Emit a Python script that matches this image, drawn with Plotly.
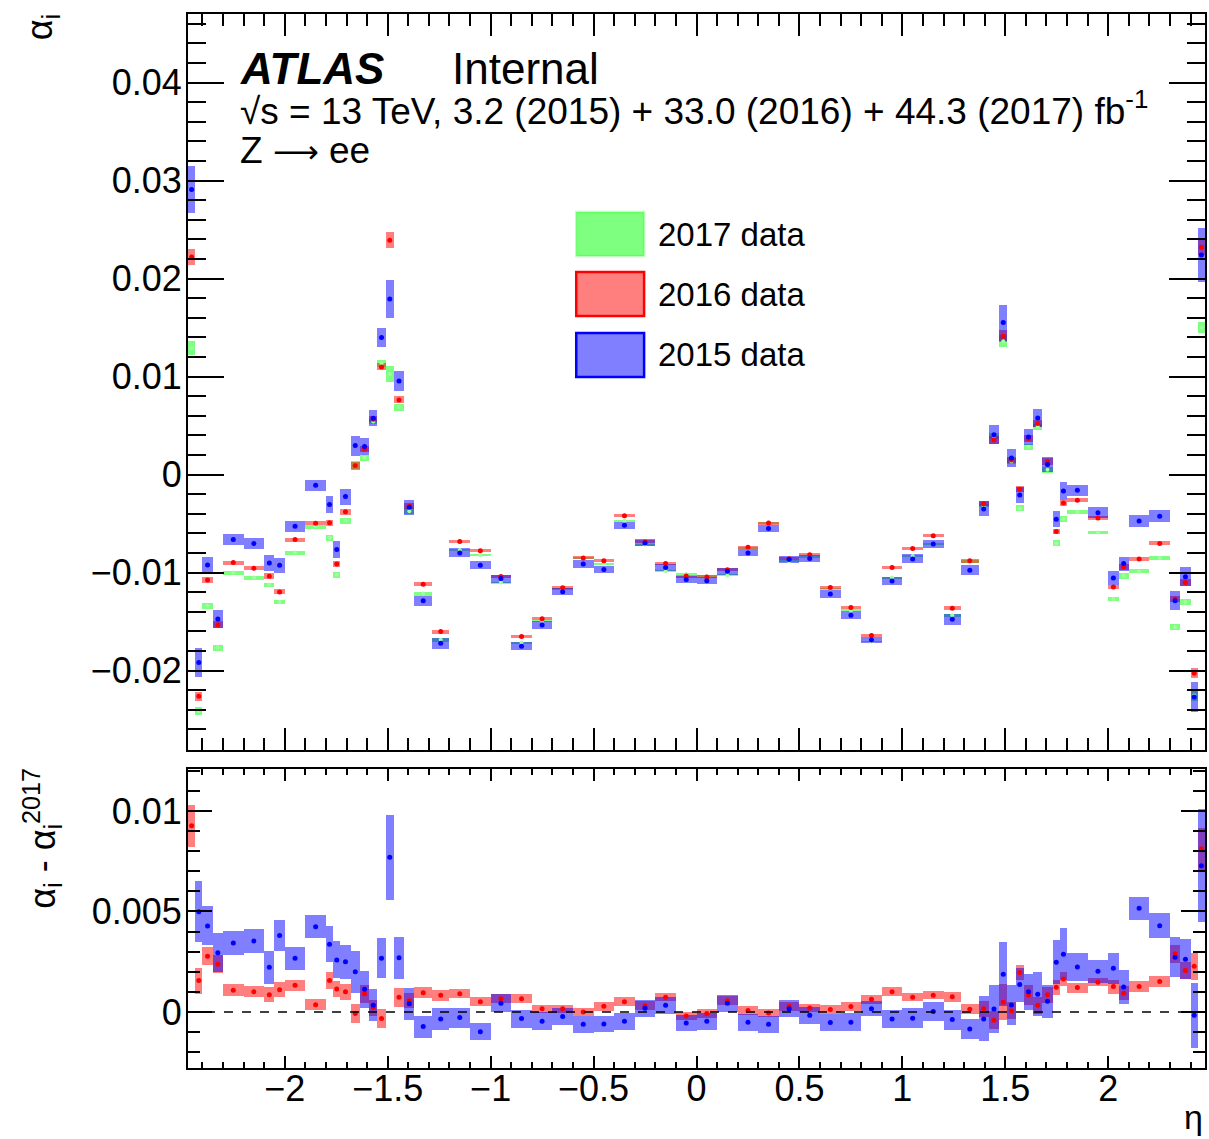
import plotly.graph_objects as go

# ---------------- data ----------------
eta_edges = [-2.47, -2.435, -2.4, -2.35, -2.3, -2.2, -2.1, -2.05, -2.0, -1.9, -1.8, -1.765,
             -1.73, -1.68, -1.635, -1.59, -1.55, -1.51, -1.47, -1.42, -1.37, -1.285, -1.2,
             -1.1, -1.0, -0.9, -0.8, -0.7, -0.6, -0.5, -0.4, -0.3, -0.2, -0.1, 0.0,
             0.1, 0.2, 0.3, 0.4, 0.5, 0.6, 0.7, 0.8, 0.9, 1.0, 1.1, 1.2,
             1.285, 1.37, 1.42, 1.47, 1.51, 1.55, 1.59, 1.635, 1.68, 1.73, 1.765, 1.8,
             1.9, 2.0, 2.05, 2.1, 2.2, 2.3, 2.35, 2.4, 2.435, 2.47]

alpha_2017 = [0.0129, -0.02413, -0.0134, -0.01765, -0.0100, -0.01051, -0.01122, -0.01301,
              -0.00796, -0.0053, -0.00643, -0.0102, -0.00469, 0.0010, 0.00173, 0.00542,
              0.01135, 0.01027, 0.00689, -0.00373, -0.01214, -0.01684, -0.0077, -0.00824,
              -0.01102, -0.01716, -0.01492, -0.01172, -0.00851, -0.00909, -0.0047, -0.00714,
              -0.00984, -0.01016, -0.01036, -0.01029, -0.00748, -0.0049, -0.00883, -0.0084,
              -0.01163, -0.01386, -0.01703, -0.0105, -0.0083, -0.00709, -0.01436, -0.0089,
              -0.00315, 0.00393, 0.0136, 0.00135, -0.00345, 0.00285, 0.0049, 0.00049,
              -0.00702, -0.00452, -0.00382, -0.00591, -0.0127, -0.01031, -0.00988, -0.0085,
              -0.01556, -0.013, -0.02255, 0.0150]
err_2017 = [0.0007, 0.00043, 0.00034, 0.0003, 0.0002, 0.0002, 0.0002, 0.0002, 0.0002, 0.0002,
            0.0003, 0.0003, 0.0003, 0.0004, 0.0003, 0.0003, 0.00034, 0.00085, 0.00036, 0.0003,
            0.0002, 0.0002, 0.0001, 0.0001, 0.0001, 0.0001, 0.0001, 0.0001, 0.0001, 0.0001,
            0.0001, 0.0001, 0.0001, 0.0001, 0.0001, 0.0001, 0.0001, 0.0001, 0.0001, 0.0001,
            0.0001, 0.0001, 0.0001, 0.0001, 0.0001, 0.0001, 0.00015, 0.00015, 0.0002, 0.0003,
            0.0006, 0.0003, 0.0003, 0.0003, 0.0003, 0.0003, 0.0003, 0.0003, 0.0002, 0.0002,
            0.00024, 0.0003, 0.0002, 0.0002, 0.00034, 0.0003, 0.0005, 0.0006]

alpha_2016 = [0.0222, -0.02262, -0.01075, -0.01531, -0.00898, -0.00956, -0.01037, -0.01197,
              -0.00663, -0.00497, -0.0049, -0.00911, -0.00378, 0.00092, 0.00262, 0.00565,
              0.01099, 0.02391, 0.00762, -0.00322, -0.01119, -0.01602, -0.00682, -0.00776,
              -0.0104, -0.01653, -0.0147, -0.01154, -0.0085, -0.0088, -0.00419, -0.00687,
              -0.00908, -0.01035, -0.01044, -0.00972, -0.00742, -0.00494, -0.00858, -0.00818,
              -0.01153, -0.01357, -0.01642, -0.00949, -0.00755, -0.00625, -0.01364, -0.0088,
              -0.00298, 0.00353, 0.01411, 0.0015, -0.0015, 0.00366, 0.00522, 0.00133,
              -0.00581, -0.0029, -0.00262, -0.00442, -0.01146, -0.00939, -0.00861, -0.00702,
              -0.01269, -0.011, -0.02026, 0.0232]
err_2016 = [0.0008, 0.00048, 0.00034, 0.00037, 0.0002, 0.0002, 0.0003, 0.00026, 0.0002, 0.0002,
            0.0003, 0.0003, 0.0003, 0.0004, 0.00034, 0.0003, 0.00036, 0.0008, 0.00036, 0.0003,
            0.0002, 0.0002, 0.00015, 0.00015, 0.00015, 0.00015, 0.00015, 0.00015, 0.00015, 0.00015,
            0.00015, 0.00015, 0.00015, 0.00015, 0.00015, 0.00015, 0.00015, 0.00015, 0.00015, 0.00015,
            0.00015, 0.00015, 0.00015, 0.00015, 0.00015, 0.00015, 0.0002, 0.0002, 0.00025, 0.0004,
            0.0006, 0.00034, 0.00032, 0.00034, 0.00036, 0.00032, 0.0003, 0.0003, 0.0002, 0.0002,
            0.00024, 0.0003, 0.0002, 0.0002, 0.00034, 0.00034, 0.0005, 0.0008]

alpha_2015 = [0.0291, -0.01918, -0.00922, -0.01473, -0.00663, -0.00704, -0.00901, -0.00925,
              -0.00527, -0.00109, -0.00306, -0.00765, -0.00224, 0.00296, 0.00286, 0.00575,
              0.01398, 0.01793, 0.00956, -0.00333, -0.01286, -0.01721, -0.00799, -0.00925,
              -0.01061, -0.01752, -0.01534, -0.01194, -0.00912, -0.00969, -0.00517, -0.00697,
              -0.00949, -0.01071, -0.01082, -0.00986, -0.00799, -0.00551, -0.00867, -0.00857,
              -0.01218, -0.01435, -0.01687, -0.01085, -0.0086, -0.00707, -0.01476, -0.00976,
              -0.0035, 0.00408, 0.01551, 0.0017, -0.00207, 0.00385, 0.00578, 0.00102,
              -0.00456, -0.00167, -0.0016, -0.00388, -0.01054, -0.00908, -0.00473, -0.00425,
              -0.01286, -0.01041, -0.02268, 0.0224]
err_2015 = [0.0024, 0.00146, 0.00085, 0.00092, 0.0006, 0.00054, 0.00082, 0.00077, 0.00056, 0.00056,
            0.00085, 0.00085, 0.00082, 0.00102, 0.00087, 0.0008, 0.00095, 0.00192, 0.001, 0.00075,
            0.00051, 0.00056, 0.00046, 0.00041, 0.00041, 0.00041, 0.00041, 0.00036, 0.00036, 0.00036,
            0.00036, 0.00036, 0.00036, 0.00036, 0.00036, 0.00036, 0.00036, 0.00036, 0.00036, 0.00036,
            0.00036, 0.00041, 0.00031, 0.00041, 0.00046, 0.00041, 0.00054, 0.00051, 0.00077, 0.00095,
            0.00184, 0.00095, 0.00085, 0.00085, 0.00092, 0.0008, 0.00082, 0.00087, 0.00056, 0.00056,
            0.00071, 0.00071, 0.00061, 0.00061, 0.00095, 0.00095, 0.00155, 0.00276]

# ratio panel: alpha_i - alpha_i(2017)
diff_2016 = [0.00927, 0.00156, 0.00277, 0.00237, 0.00108, 0.00101, 0.00086, 0.00111, 0.00133, 0.00036,
             0.00156, 0.00114, 0.0010, -0.00008, 0.0009, 0.00021, -0.00033, 0.01364, 0.00073, 0.00056,
             0.00096, 0.00083, 0.00091, 0.00051, 0.00066, 0.00066, 0.00016, 0.00016, 0.0, 0.00028,
             0.00051, 0.00031, 0.00073, -0.0002, -0.00008, 0.00056, 0.00007, -0.00005, 0.00028, 0.0002,
             0.00012, 0.00027, 0.00063, 0.00101, 0.00073, 0.00083, 0.00075, 0.00013, 0.00016, -0.00041,
             0.00048, 0.00006, 0.00196, 0.00083, 0.00033, 0.00085, 0.00123, 0.00164, 0.00121, 0.00148,
             0.00126, 0.00093, 0.00126, 0.00151, 0.0029, 0.00206, 0.00227, 0.00812]
derr_2016 = [0.00104, 0.00065, 0.00044, 0.00044, 0.00029, 0.00029, 0.00036, 0.00036, 0.00027, 0.00027,
             0.00041, 0.00039, 0.0004, 0.00047, 0.00045, 0.00039, 0.00046, 0.0012, 0.00046, 0.00037,
             0.00029, 0.00027, 0.00021, 0.00021, 0.00021, 0.00021, 0.00021, 0.00021, 0.00021, 0.00021,
             0.00021, 0.00021, 0.00021, 0.00021, 0.00021, 0.00021, 0.00021, 0.00021, 0.00021, 0.00021,
             0.00021, 0.00021, 0.00021, 0.00021, 0.00021, 0.00021, 0.00025, 0.00025, 0.00039, 0.00046,
             0.0009, 0.00041, 0.00039, 0.0005, 0.00041, 0.00041, 0.00037, 0.00037, 0.00025, 0.00021,
             0.00035, 0.00036, 0.00027, 0.00028, 0.00044, 0.00044, 0.00066, 0.00104]

diff_2015 = [0.0162, 0.00499, 0.00428, 0.00295, 0.00343, 0.00353, 0.00222, 0.00381, 0.00267, 0.00424,
             0.00337, 0.00259, 0.0025, 0.002, 0.00113, 0.00033, 0.00267, 0.0077, 0.0027, 0.00041,
             -0.00073, -0.00035, -0.00028, -0.00098, 0.00043, -0.00033, -0.00046, -0.00023, -0.00061, -0.0006,
             -0.00046, 0.00018, 0.00033, -0.00055, -0.00046, 0.00043, -0.00051, -0.00061, 0.00016, -0.00017,
             -0.00053, -0.00051, 0.00016, -0.00035, -0.00031, 0.00002, -0.00038, -0.00085, -0.00035, 0.00015,
             0.00188, 0.00035, 0.00136, 0.001, 0.00088, 0.00053, 0.00247, 0.00287, 0.00224, 0.00202,
             0.00217, 0.00124, 0.00516, 0.00429, 0.00272, 0.00262, -0.00017, 0.00728]
derr_2015 = [0.0024, 0.00153, 0.00097, 0.00098, 0.00062, 0.00059, 0.00081, 0.00079, 0.00057, 0.00056,
             0.0009, 0.00092, 0.00085, 0.00104, 0.00092, 0.0008, 0.001, 0.00211, 0.00104, 0.00079,
             0.00055, 0.00055, 0.0005, 0.00041, 0.00045, 0.00045, 0.00045, 0.00042, 0.00042, 0.00042,
             0.00042, 0.00042, 0.00042, 0.00042, 0.00042, 0.00042, 0.00042, 0.00042, 0.00042, 0.00042,
             0.00042, 0.00045, 0.00038, 0.00045, 0.0005, 0.00045, 0.0005, 0.0005, 0.00112, 0.00118,
             0.0016, 0.001, 0.00085, 0.0009, 0.0011, 0.00083, 0.0011, 0.0013, 0.00068, 0.00056,
             0.00076, 0.00083, 0.00058, 0.00062, 0.001, 0.001, 0.0016, 0.0028]

x_ticks = [-2, -1.5, -1, -0.5, 0, 0.5, 1, 1.5, 2]

# ---------------- geometry helpers ----------------
W, H = 1209, 1139
ML, MR, MT, MB = 188, 2, 14, 71
PW, PH = W - ML - MR, H - MT - MB


def px(x):
    return (x - ML) / PW


def py(y):
    return (H - MB - y) / PH


centers = [(a + b) / 2 for a, b in zip(eta_edges[:-1], eta_edges[1:])]
widths = [(b - a) for a, b in zip(eta_edges[:-1], eta_edges[1:])]

GREEN = 'rgba(0,255,0,0.5)'
RED = 'rgba(255,0,0,0.5)'
BLUE = 'rgba(0,0,255,0.5)'

fig = go.Figure()


def add_band(vals, errs, color, xa, ya, mcolor, msize=5):
    fig.add_trace(go.Bar(
        x=centers, y=[2 * e for e in errs], base=[v - e for v, e in zip(vals, errs)],
        width=widths, marker=dict(color=color, line=dict(width=0)),
        xaxis=xa, yaxis=ya, showlegend=False, hoverinfo='skip'))
    fig.add_trace(go.Scatter(
        x=centers, y=vals, mode='markers',
        marker=dict(color=mcolor, size=msize, line=dict(width=0)),
        xaxis=xa, yaxis=ya, showlegend=False))


# top panel
add_band(alpha_2017, err_2017, GREEN, 'x', 'y', 'rgba(160,255,160,1)', 4)
add_band(alpha_2016, err_2016, RED, 'x', 'y', 'red')
add_band(alpha_2015, err_2015, BLUE, 'x', 'y', 'blue')
# bottom panel
add_band(diff_2016, derr_2016, RED, 'x2', 'y2', 'red')
add_band(diff_2015, derr_2015, BLUE, 'x2', 'y2', 'blue')

FONT = 'Liberation Sans, Arial, Helvetica, sans-serif'
axis_common = dict(showline=True, linecolor='black', linewidth=2, mirror='ticks',
                   ticks='inside', tickcolor='black', tickwidth=2,
                   showgrid=False, zeroline=False,
                   tickfont=dict(family=FONT, size=36, color='black'))

top_dom = [py(750), 1.0]
bot_dom = [0.0, py(769)]

fig.update_layout(
    width=W, height=H,
    margin=dict(l=ML, r=MR, t=MT, b=MB),
    paper_bgcolor='white', plot_bgcolor='white',
    barmode='overlay', bargap=0,
    showlegend=False,
    xaxis=dict(axis_common, anchor='y', domain=[0, 1], range=[-2.47, 2.47],
               tickvals=x_ticks, showticklabels=False, ticklen=22,
               minor=dict(dtick=0.1, tick0=0, ticklen=12, tickwidth=2, tickcolor='black', ticks='inside')),
    yaxis=dict(axis_common, anchor='x', domain=top_dom, range=[-0.0281, 0.0470],
               dtick=0.01, tick0=0, ticklen=36, ticklabelstandoff=-3,
               minor=dict(dtick=0.002, tick0=0, ticklen=18, tickwidth=2, tickcolor='black', ticks='inside')),
    xaxis2=dict(axis_common, anchor='y2', domain=[0, 1], range=[-2.47, 2.47], matches='x',
                tickvals=x_ticks, ticklen=12, ticklabelstandoff=-12,
                minor=dict(dtick=0.1, tick0=0, ticklen=6, tickwidth=2, tickcolor='black', ticks='inside')),
    yaxis2=dict(axis_common, anchor='x2', domain=bot_dom, range=[-0.00279, 0.01209],
                dtick=0.005, tick0=0, ticklen=24, ticklabelstandoff=-3,
                minor=dict(dtick=0.001, tick0=0, ticklen=12, tickwidth=2, tickcolor='black', ticks='inside')),
)

# dashed zero line in ratio panel
fig.add_shape(type='line', xref='x2 domain', yref='y2', x0=0, x1=1, y0=0, y1=0,
              line=dict(color='black', width=1.5, dash='dash'), layer='above')

# legend (drawn manually)
legend_items = [('2017 data', GREEN, 'rgba(0,255,0,0.25)', 212, 256),
                ('2016 data', RED, 'red', 272, 316),
                ('2015 data', BLUE, 'blue', 333, 377)]
for label, fill, edge, y0, y1 in legend_items:
    fig.add_shape(type='rect', xref='paper', yref='paper',
                  x0=px(577), x1=px(645), y0=py(y1), y1=py(y0),
                  fillcolor=fill, line=dict(color=edge, width=2.5))
    fig.add_annotation(xref='paper', yref='paper', x=px(657), y=py((y0 + y1) / 2),
                       text=label, showarrow=False, xanchor='left', yanchor='middle',
                       font=dict(family=FONT, size=33, color='black'))

# header texts
fig.add_annotation(xref='paper', yref='paper', x=px(238), y=py(69), text='<b><i>ATLAS</i></b>',
                   showarrow=False, xanchor='left', yanchor='middle',
                   font=dict(family=FONT, size=44, color='black'))
fig.add_annotation(xref='paper', yref='paper', x=px(451), y=py(69), text='Internal',
                   showarrow=False, xanchor='left', yanchor='middle',
                   font=dict(family=FONT, size=44, color='black'))
fig.add_annotation(xref='paper', yref='paper', x=px(238), y=py(109),
                   text='√s = 13 TeV, 3.2 (2015) + 33.0 (2016) + 44.3 (2017) fb<sup>-1</sup>',
                   showarrow=False, xanchor='left', yanchor='middle',
                   font=dict(family=FONT, size=37, color='black'))
fig.add_annotation(xref='paper', yref='paper', x=px(238), y=py(150),
                   text='Z <span style="font-family:DejaVu Sans;font-size:32px">⟶</span> ee',
                   showarrow=False, xanchor='left', yanchor='middle',
                   font=dict(family=FONT, size=37, color='black'))

# axis titles
fig.add_annotation(xref='paper', yref='paper', x=px(42), y=py(12), text='α<sub>i</sub>',
                   textangle=-90, showarrow=False, xanchor='center', yanchor='top',
                   font=dict(family=FONT, size=36, color='black'))
fig.add_annotation(xref='paper', yref='paper', x=px(42), y=py(766),
                   text='α<sub>i</sub> - α<sub>i</sub><sup>2017</sup>',
                   textangle=-90, showarrow=False, xanchor='center', yanchor='top',
                   font=dict(family=FONT, size=36, color='black'))
fig.add_annotation(xref='paper', yref='paper', x=px(1207), y=py(1138), text='η',
                   showarrow=False, xanchor='right', yanchor='bottom',
                   font=dict(family=FONT, size=34, color='black'))

fig.write_html('out.html')
